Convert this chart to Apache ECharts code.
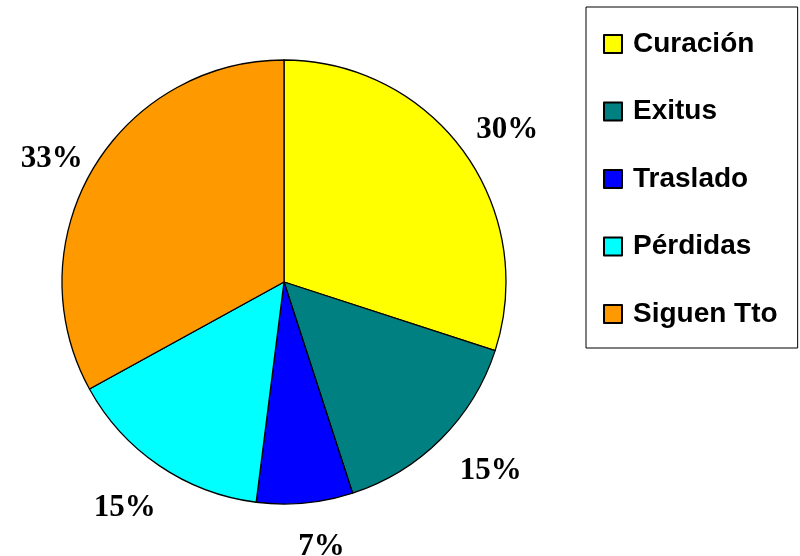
<!DOCTYPE html>
<html>
<head>
<meta charset="utf-8">
<script src="https://cdn.jsdelivr.net/npm/echarts@6/dist/echarts.min.js"></script>
<style>
  html, body { margin: 0; padding: 0; background: #ffffff; }
  #chart { width: 800px; height: 556px; }
</style>
</head>
<body>
<div id="chart"></div>
<script>
// Outcome categories and their shares (%)
const categories = ['Curación', 'Exitus', 'Traslado', 'Pérdidas', 'Siguen Tto'];
const values = [30, 15, 7, 15, 33];

// Presentation settings
const colors = ['#FFFF00', '#008080', '#0000FF', '#00FFFF', '#FF9900'];
const labelNudge = [[4, 7], [15, -3], [12, -5], [-7, 2], [1, 15]];

const pieData = categories.map((name, i) => ({
  name: name,
  value: values[i],
  itemStyle: { color: colors[i] }
}));

const center = [284, 282];

const chart = echarts.init(document.getElementById('chart'), null, { renderer: 'canvas' });
chart.setOption({
  backgroundColor: '#ffffff',
  animation: false,
  legend: {
    orient: 'vertical',
    left: 586,
    top: 7,
    data: categories,
    icon: 'rect',
    itemWidth: 18,
    itemHeight: 18,
    itemGap: 39.5,
    padding: [23, 20, 20, 17],
    borderColor: '#000000',
    borderWidth: 1,
    backgroundColor: '#ffffff',
    selectedMode: false,
    textStyle: {
      fontFamily: 'Liberation Sans, Arial, sans-serif',
      fontWeight: 'bold',
      fontSize: 28,
      color: '#000000',
      padding: [0, 0, 0, 6]
    }
  },
  series: [
    {
      // the slices
      type: 'pie',
      center: center,
      radius: 222,
      startAngle: 90,
      clockwise: true,
      silent: true,
      label: { show: false },
      labelLine: { show: false },
      itemStyle: { borderColor: '#000000', borderWidth: 1.3 },
      emphasis: { disabled: true },
      data: pieData
    },
    {
      // percentage labels placed on a ring just outside the pie
      type: 'pie',
      center: center,
      radius: [246, 290],
      startAngle: 90,
      clockwise: true,
      silent: true,
      itemStyle: { color: 'rgba(0,0,0,0)', borderWidth: 0 },
      emphasis: { disabled: true },
      labelLine: { show: false },
      label: {
        show: true,
        position: 'inside',
        formatter: p => Math.round(p.percent) + '%',
        fontFamily: 'Liberation Serif, Times New Roman, serif',
        fontWeight: 'bold',
        fontSize: 31,
        color: '#000000'
      },
      data: categories.map((name, i) => ({
        name: name,
        value: values[i],
        label: { offset: labelNudge[i] }
      }))
    }
  ]
});
</script>
</body>
</html>
